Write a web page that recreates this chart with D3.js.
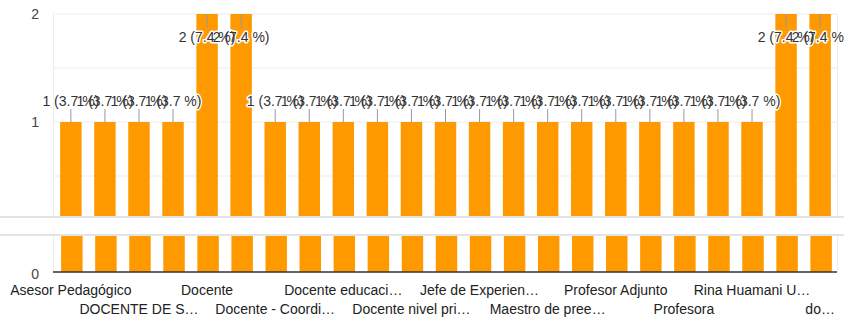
<!DOCTYPE html>
<html>
<head>
<meta charset="utf-8">
<script src="https://cdn.jsdelivr.net/npm/d3@7"></script>
<style>
  html, body { margin: 0; padding: 0; background: #fff; }
  svg { display: block; font-family: Arial, "Liberation Sans", sans-serif; }
</style>
</head>
<body>
<svg id="chart" width="844" height="322"></svg>
<script>
// Respuestas por cargo (27 respuestas en total)
const categories = [
  "Asesor Pedagógico", "Coordinadora académica", "DOCENTE DE S…", "DOCENTE",
  "Docente", "Docente ", "Docente - Coordi…", "Docente de aula",
  "Docente educaci…", "Docente inicial", "Docente nivel pri…", "Docente secundaria",
  "Jefe de Experien…", "Maestra", "Maestro de pree…", "Profesor",
  "Profesor Adjunto", "Profesor de aula", "Profesora", "Profesora de inicial",
  "Rina Huamani U…", "docente", "do…"
];
const counts = [1, 1, 1, 1, 2, 2, 1, 1, 1, 1, 1, 1, 1, 1, 1, 1, 1, 1, 1, 1, 1, 2, 2];
const percentLabels = ["3.7 %", "7.4 %"];
const yTicks = [0, 1, 2];
const gridValues = [0.5, 1, 1.5, 2];

const svg = d3.select("#chart");
const W = 844;
const left = 53, right = 837;
const topY = 14, breakTop = 216, breakBottom = 235, baseY = 272;

const x = d3.scaleBand()
  .domain(d3.range(categories.length))
  .range([left + 1, right])
  .paddingInner(0.37)
  .paddingOuter(0.18);

// Two pieces of the broken value axis, same pixels per unit
const yUpper = d3.scaleLinear().domain([1, 2]).range([122, topY]);
const yLower = d3.scaleLinear().domain([0, 1]).range([baseY, baseY - (yUpper(1) - yUpper(2))]);

const defs = svg.append("defs");
defs.append("clipPath").attr("id", "clipUpper")
  .append("rect").attr("x", 0).attr("y", topY).attr("width", W).attr("height", breakTop - topY);
defs.append("clipPath").attr("id", "clipLower")
  .append("rect").attr("x", 0).attr("y", breakBottom).attr("width", W).attr("height", baseY - breakBottom);

// Gridlines (upper part)
svg.append("g").selectAll("line").data(gridValues).join("line")
  .attr("x1", left).attr("x2", right)
  .attr("y1", d => yUpper(d)).attr("y2", d => yUpper(d))
  .attr("stroke", "#ececec").attr("stroke-width", 1);

// Frame lines at the sides of the plot
[[topY, breakTop], [breakBottom, baseY]].forEach(([a, b]) => {
  [left, right].forEach(xx => {
    svg.append("line").attr("x1", xx + 0.5).attr("x2", xx + 0.5).attr("y1", a).attr("y2", b)
      .attr("stroke", "#ececec");
  });
});

// Bars, upper segment
svg.append("g").attr("clip-path", "url(#clipUpper)")
  .selectAll("rect").data(counts).join("rect")
  .attr("x", (d, i) => x(i))
  .attr("width", x.bandwidth())
  .attr("y", d => yUpper(d))
  .attr("height", d => breakTop - yUpper(d))
  .attr("fill", "#ff9900");

// Bars, lower segment
svg.append("g").attr("clip-path", "url(#clipLower)")
  .selectAll("rect").data(counts).join("rect")
  .attr("x", (d, i) => x(i) + 1)
  .attr("width", x.bandwidth())
  .attr("y", d => yLower(d))
  .attr("height", d => yLower(0) - yLower(d))
  .attr("fill", "#ff9900");

// Axis break band
svg.append("rect").attr("x", 0).attr("y", breakTop).attr("width", W).attr("height", breakBottom - breakTop)
  .attr("fill", "#ffffff");
[breakTop + 1, breakBottom].forEach(yy => {
  svg.append("line").attr("x1", 0).attr("x2", W).attr("y1", yy).attr("y2", yy)
    .attr("stroke", "#e3e3e3").attr("stroke-width", 2);
});

// Baseline
svg.append("line").attr("x1", left).attr("x2", right).attr("y1", baseY).attr("y2", baseY)
  .attr("stroke", "#333").attr("stroke-width", 1.5);

// Y tick labels
svg.append("g").selectAll("text").data(yTicks).join("text")
  .attr("x", 39)
  .attr("y", d => (d === 0 ? yLower(0) + 2 : yUpper(d)))
  .attr("dy", "0.36em")
  .attr("text-anchor", "end")
  .attr("font-size", 14)
  .attr("fill", "#444")
  .text(d => d);

// Value annotations: stem + text with white halo
const annText = d => `${d} (${percentLabels[d - 1]})`;
const ann = counts.map((d, i) => {
  const cx = x(i) + x.bandwidth() / 2;
  const barTop = yUpper(d);
  if (barTop <= topY + 1) {
    return { d, cx, s1: barTop, s2: barTop + 14, ty: barTop + 28 };
  }
  return { d, cx, s1: barTop - 13, s2: barTop, ty: barTop - 16 };
});

svg.append("g").selectAll("line").data(ann).join("line")
  .attr("x1", a => a.cx).attr("x2", a => a.cx)
  .attr("y1", a => a.s1).attr("y2", a => a.s2)
  .attr("stroke", "#999").attr("stroke-width", 1);

const annHalo = svg.append("g");
const annFill = svg.append("g");
[annHalo, annFill].forEach((g, k) => {
  g.selectAll("text").data(ann).join("text")
    .attr("x", a => a.cx)
    .attr("y", a => a.ty)
    .attr("text-anchor", "middle")
    .attr("font-size", 14)
    .attr("fill", k === 0 ? "#fff" : "#333")
    .attr("stroke", k === 0 ? "#fff" : "none")
    .attr("stroke-width", k === 0 ? 3 : 0)
    .attr("stroke-linejoin", "round")
    .text(a => annText(a.d));
});

// Category labels: every other bar, alternating in two rows
svg.append("g").selectAll("text")
  .data(categories.map((c, i) => ({ c, i })).filter(o => o.i % 2 === 0))
  .join("text")
  .attr("x", o => x(o.i) + x.bandwidth() / 2)
  .attr("y", o => (o.i % 4 === 0 ? 295 : 314))
  .attr("text-anchor", "middle")
  .attr("font-size", 14)
  .attr("fill", "#222")
  .text(o => o.c);
</script>
</body>
</html>
